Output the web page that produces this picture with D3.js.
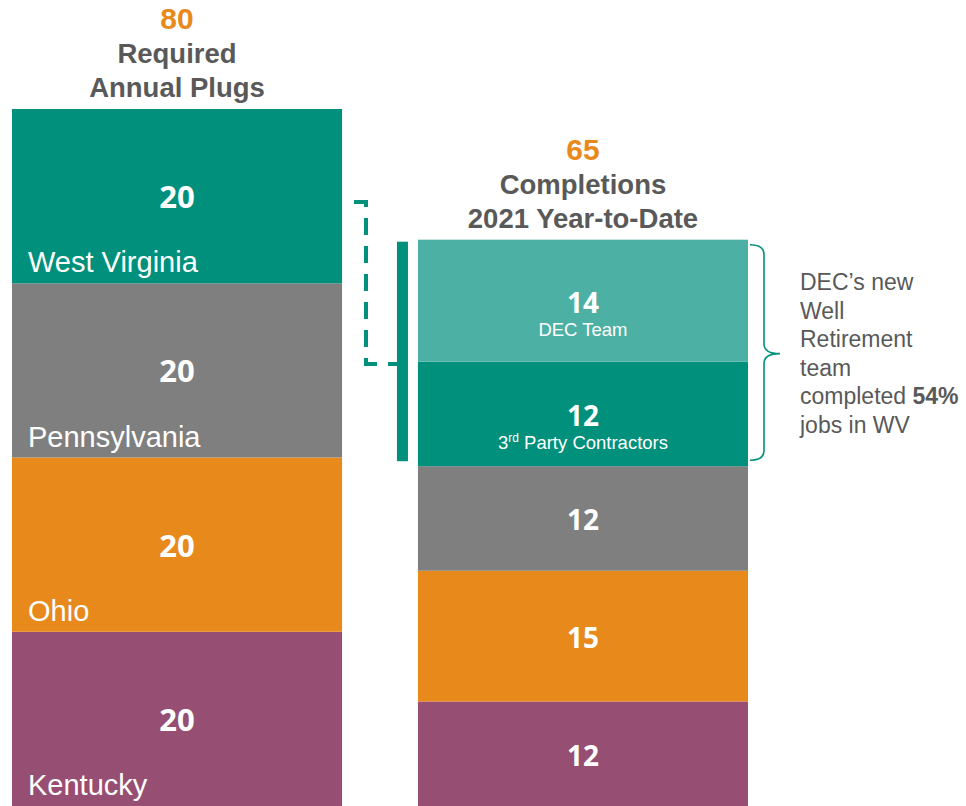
<!DOCTYPE html>
<html>
<head>
<meta charset="utf-8">
<script src="https://cdn.jsdelivr.net/npm/d3@7"></script>
<style>
  html, body { margin: 0; padding: 0; background: #fff; }
  svg { display: block; }
</style>
</head>
<body>
<svg id="chart" width="966" height="806"></svg>
<script>
// Well plugging: annual requirement vs. completions so far in 2021
const states = ["Kentucky", "Ohio", "Pennsylvania", "West Virginia"];
const requiredPlugs = [20, 20, 20, 20];
const completedSegments = ["Kentucky", "Ohio", "Pennsylvania", "WV 3rd Party", "WV DEC Team"];
const completedPlugs = [12, 15, 12, 12, 14];
const completedSubLabels = ["", "", "", "3rd Party Contractors", "DEC Team"];
const barNames = ["Required Annual Plugs", "Completions 2021 Year-to-Date"];
const barTitles = [["Required", "Annual Plugs"], ["Completions", "2021 Year-to-Date"]];
const noteLines = ["DEC\u2019s new", "Well", "Retirement", "team", "completed |54%", "jobs in WV"];

const colors = {
  "West Virginia": "#00907B",
  "WV 3rd Party": "#00907B",
  "WV DEC Team": "#4DB0A4",
  "Pennsylvania": "#7F7F7F",
  "Ohio": "#E8891C",
  "Kentucky": "#964F72"
};

const svg = d3.select("#chart");
const W = 966, H = 806;

const x = d3.scaleBand().domain(barNames).range([12, 748]).paddingInner(0.187).paddingOuter(0);
const y = d3.scaleLinear().domain([0, 80]).range([H, 109]);

const numFont = "'Open Sans', 'DejaVu Sans', sans-serif";
const textFont = "'Liberation Sans', Arial, sans-serif";

function stackOf(names, values) {
  let acc = 0;
  return names.map((n, i) => {
    const d = { name: n, value: values[i], y0: acc, y1: acc + values[i], i };
    acc += values[i];
    return d;
  });
}

const leftStack = stackOf(states, requiredPlugs);
const rightStack = stackOf(completedSegments, completedPlugs);

// Left bar: required plugs per state
const gL = svg.append("g");
gL.selectAll("rect").data(leftStack).join("rect")
  .attr("x", x(barNames[0])).attr("width", x.bandwidth())
  .attr("y", d => y(d.y1)).attr("height", d => y(d.y0) - y(d.y1))
  .attr("fill", d => colors[d.name]);

gL.selectAll("text.val").data(leftStack).join("text")
  .attr("class", "val")
  .attr("x", x(barNames[0]) + x.bandwidth() / 2)
  .attr("y", d => (y(d.y0) + y(d.y1)) / 2 + 12)
  .attr("text-anchor", "middle")
  .attr("font-family", numFont).attr("font-weight", 700).attr("font-size", 31)
  .attr("fill", "#fff")
  .text(d => d.value);

gL.selectAll("text.cat").data(leftStack).join("text")
  .attr("class", "cat")
  .attr("x", x(barNames[0]) + 16)
  .attr("y", d => y(d.y0) - 11)
  .attr("font-family", textFont).attr("font-size", 29)
  .attr("fill", "#fff")
  .text(d => d.name);

// Right bar: completions year-to-date
const gR = svg.append("g");
gR.selectAll("rect").data(rightStack).join("rect")
  .attr("x", x(barNames[1])).attr("width", x.bandwidth())
  .attr("y", d => y(d.y1)).attr("height", d => y(d.y0) - y(d.y1))
  .attr("fill", d => colors[d.name]);

gR.selectAll("text.val").data(rightStack).join("text")
  .attr("class", "val")
  .attr("x", x(barNames[1]) + x.bandwidth() / 2)
  .attr("y", d => (y(d.y0) + y(d.y1)) / 2 + 12)
  .attr("text-anchor", "middle")
  .attr("font-family", numFont).attr("font-weight", 700).attr("font-size", 28)
  .attr("fill", "#fff")
  .text(d => d.value);

const subs = gR.selectAll("text.sub").data(rightStack.filter(d => completedSubLabels[d.i])).join("text")
  .attr("class", "sub")
  .attr("x", x(barNames[1]) + x.bandwidth() / 2)
  .attr("y", d => (y(d.y0) + y(d.y1)) / 2 + 35)
  .attr("text-anchor", "middle")
  .attr("font-family", textFont).attr("font-size", 18.5)
  .attr("fill", "#fff");
subs.each(function(d) {
  const label = completedSubLabels[d.i];
  const t = d3.select(this);
  const m = label.match(/^(\d)(rd)(.*)$/);
  if (m) {
    t.append("tspan").text(m[1]);
    t.append("tspan").attr("font-size", 12).attr("dy", -7).text(m[2]);
    t.append("tspan").attr("dy", 7).text(m[3]);
  } else {
    t.text(label);
  }
});

// Totals and titles above each bar
const totals = [d3.sum(requiredPlugs), d3.sum(completedPlugs)];
barNames.forEach((b, i) => {
  const cx = x(b) + x.bandwidth() / 2;
  const top = y(totals[i]);
  svg.append("text")
    .attr("x", cx).attr("y", top - 80)
    .attr("text-anchor", "middle")
    .attr("font-family", textFont).attr("font-weight", 700).attr("font-size", 30)
    .attr("fill", "#E8891C")
    .text(totals[i]);
  barTitles[i].forEach((line, j) => {
    svg.append("text")
      .attr("x", cx).attr("y", top - 46 + j * 34)
      .attr("text-anchor", "middle")
      .attr("font-family", textFont).attr("font-weight", 700).attr("font-size", 27.5)
      .attr("fill", "#595959")
      .text(line);
  });
});

// Connector between the two West Virginia figures
const teal = "#00907B";
const wvTop = y(d3.sum(completedPlugs));
const wvBottom = y(d3.sum(completedPlugs.slice(0, 3)));
svg.append("rect")
  .attr("x", x(barNames[1]) - 21).attr("width", 11)
  .attr("y", wvTop + 2).attr("height", wvBottom - wvTop - 7)
  .attr("fill", teal);

const dashTop = 202, dashBottom = 364;
svg.append("path")
  .attr("d", `M354,${dashTop} H366 V${dashBottom} H397`)
  .attr("fill", "none").attr("stroke", teal).attr("stroke-width", 4)
  .attr("stroke-dasharray", "17 11");

// Curly brace beside the West Virginia completions
const bx = x(barNames[1]) + x.bandwidth();
const bTop = wvTop + 5, bBot = wvBottom - 6, bMid = y(d3.sum(completedPlugs.slice(0, 4))) - 8;
svg.append("path")
  .attr("d", `M${bx + 2},${bTop} Q${bx + 16},${bTop} ${bx + 16},${bTop + 10} V${bMid - 10} Q${bx + 16},${bMid} ${bx + 32},${bMid} Q${bx + 16},${bMid} ${bx + 16},${bMid + 10} V${bBot - 10} Q${bx + 16},${bBot} ${bx + 2},${bBot}`)
  .attr("fill", "none").attr("stroke", teal).attr("stroke-width", 1.6);

// Note text
const note = svg.append("g").attr("font-family", textFont).attr("font-size", 23).attr("fill", "#595959");
noteLines.forEach((line, i) => {
  const t = note.append("text").attr("x", 800).attr("y", 290 + i * 28.5);
  const parts = line.split("|");
  t.append("tspan").text(parts[0]);
  if (parts[1]) t.append("tspan").attr("font-weight", 700).text(parts[1]);
});
</script>
</body>
</html>
